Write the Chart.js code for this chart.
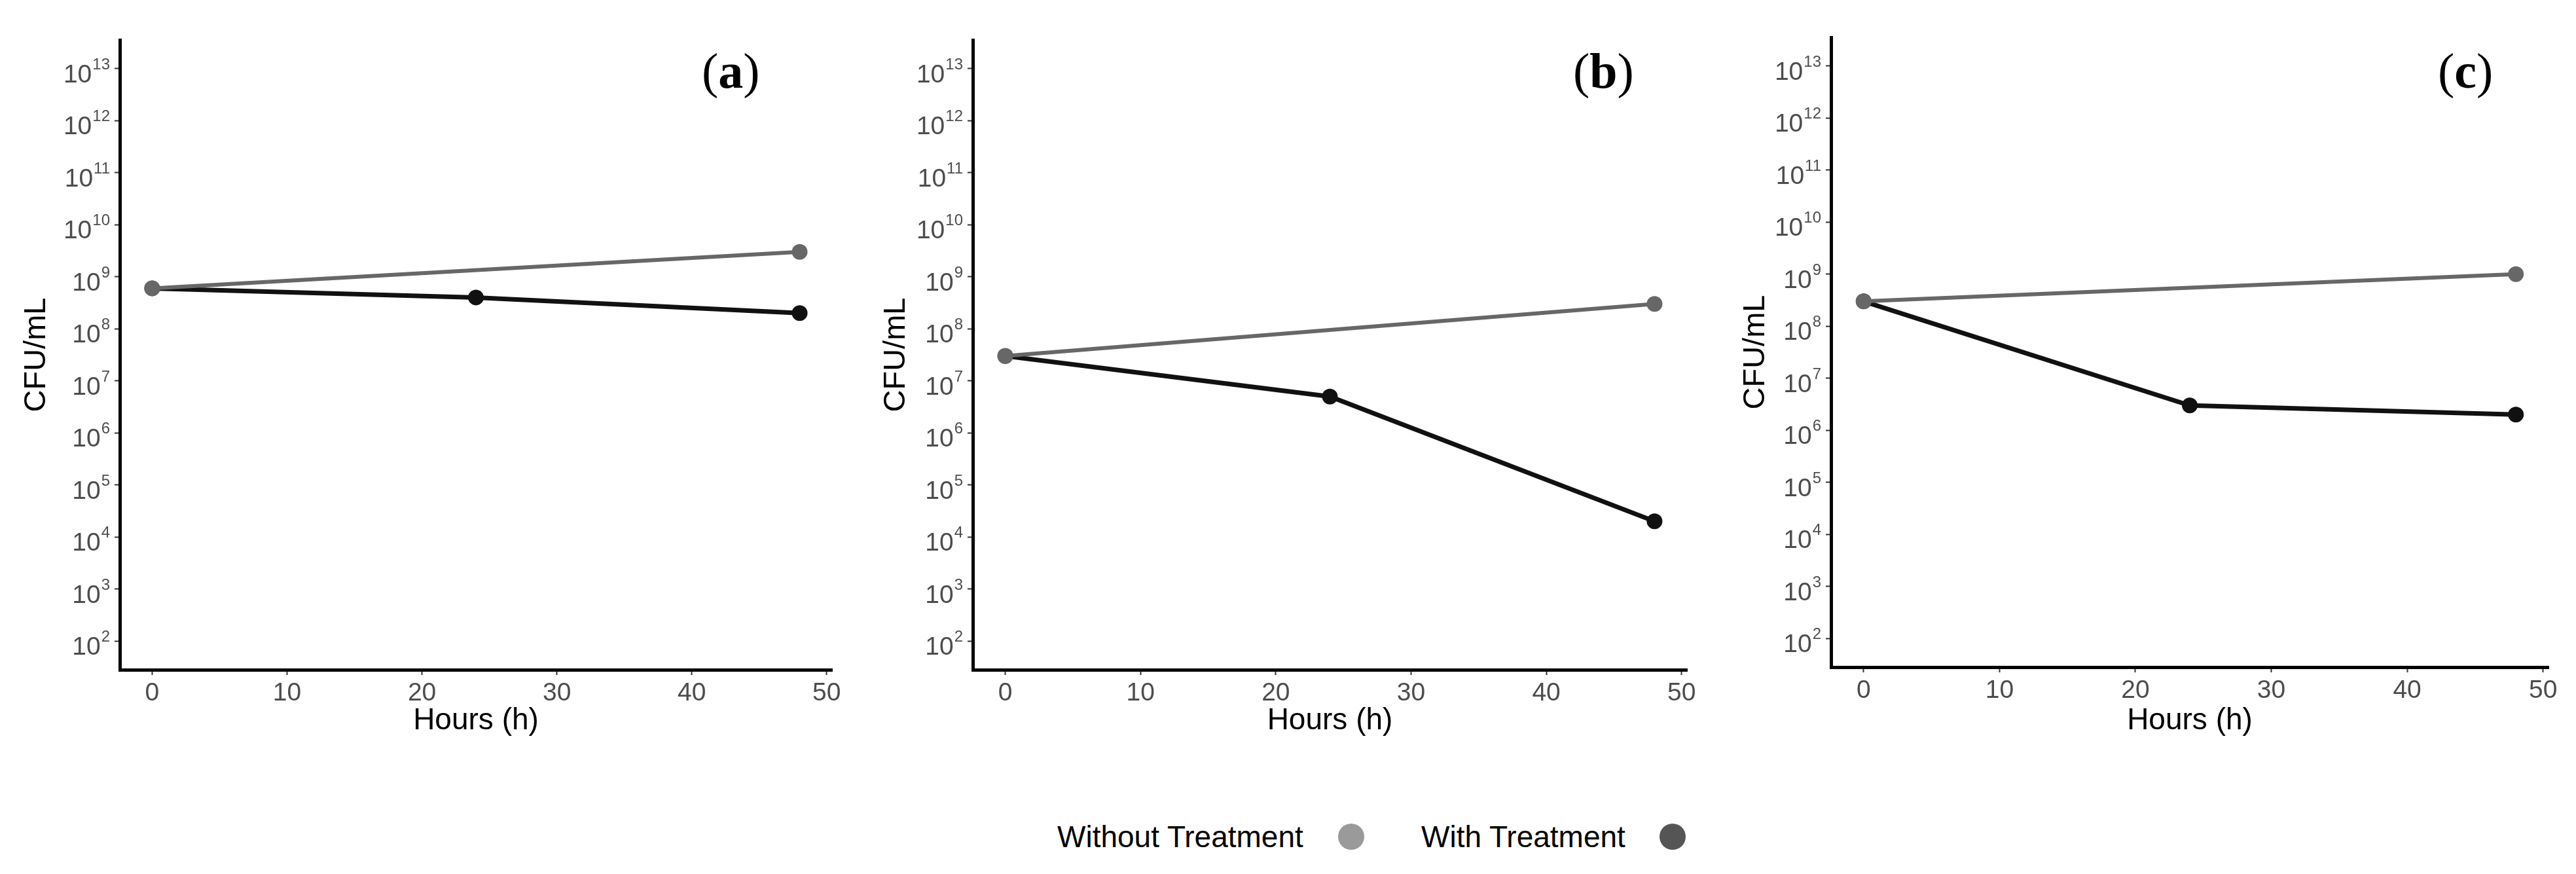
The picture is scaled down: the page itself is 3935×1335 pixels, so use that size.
<!DOCTYPE html>
<html>
<head>
<meta charset="utf-8">
<script src="https://cdn.jsdelivr.net/npm/chart.js@4"></script>
<style>
  body { margin: 0; background: #fff; }
  #page { position: relative; width: 3935px; height: 1335px; overflow: hidden; background: #fff; }
  canvas { position: absolute; top: 0; }
  .tag { position: absolute; top: 70px; font-family: "Liberation Serif", serif; font-size: 76px; line-height: 1; color: #000; }
  .tag b { font-weight: bold; }
  .leg { position: absolute; font-family: "Liberation Sans", Arial, sans-serif; font-size: 46px; line-height: 46px; color: #000; white-space: nowrap; }
  .dot { position: absolute; width: 40px; height: 40px; border-radius: 50%; }
</style>
</head>
<body>
<div id="page">
  <canvas id="chartA" width="1300" height="1150" style="left:0px"></canvas>
  <canvas id="chartB" width="1300" height="1150" style="left:1300px"></canvas>
  <canvas id="chartC" width="1335" height="1150" style="left:2600px"></canvas>

  <div class="tag" style="left:1072px">(<b>a</b>)</div>
  <div class="tag" style="left:2403px">(<b>b</b>)</div>
  <div class="tag" style="left:3724px">(<b>c</b>)</div>

  <div class="leg" style="left:1615px; top:1255px">Without Treatment</div>
  <div class="dot" style="left:2044px; top:1258px; background:#9a9a9a"></div>
  <div class="leg" style="left:2171px; top:1255px">With Treatment</div>
  <div class="dot" style="left:2535px; top:1258px; background:#555555"></div>
</div>
<script>
// hours sampled
const withoutHours = [0, 48];
const withHours = [0, 24, 48];

// CFU/mL
const withoutA = [6e8, 3e9];
const withA = [6e8, 4e8, 2e8];
const withoutB = [3e7, 3e8];
const withB = [3e7, 5e6, 2e4];
const withoutC = [3e8, 1e9];
const withC = [3e8, 3e6, 2e6];

// axis ticks
const hourTicks = [0, 10, 20, 30, 40, 50];
const yExponents = [2, 3, 4, 5, 6, 7, 8, 9, 10, 11, 12, 13];

const sans = '"Liberation Sans", Arial, sans-serif';

// y tick labels drawn as 10 with a raised exponent
const powerLabels = {
    id: 'powerLabels',
    afterDraw(chart) {
        const s = chart.scales.y;
        const ctx = chart.ctx;
        const right = s.right - 15;
        ctx.save();
        ctx.fillStyle = '#4d4d4d';
        ctx.textBaseline = 'alphabetic';
        ctx.textAlign = 'right';
        yExponents.forEach(function (e) {
            const y = s.getPixelForValue(Math.pow(10, e));
            ctx.font = '24px ' + sans;
            const exp = String(e);
            const ew = ctx.measureText(exp).width;
            ctx.fillText(exp, right, y + 1);
            ctx.font = '39px ' + sans;
            ctx.fillText('10', right - ew - 1, y + 21);
        });
        ctx.restore();
    }
};

function toPoints(hours, values) {
    return hours.map(function (h, i) { return { x: h, y: values[i] }; });
}

function makePanel(id, without, treated, lay) {
    new Chart(document.getElementById(id), {
        type: 'line',
        data: {
            datasets: [{
                label: 'Without Treatment',
                data: toPoints(withoutHours, without),
                borderColor: '#676767',
                backgroundColor: '#676767',
                borderWidth: 6,
                pointRadius: 12,
                pointBorderWidth: 0,
                tension: 0
            }, {
                label: 'With Treatment',
                data: toPoints(withHours, treated),
                borderColor: '#111111',
                backgroundColor: '#111111',
                borderWidth: 7,
                pointRadius: 12,
                pointBorderWidth: 0,
                tension: 0
            }]
        },
        options: {
            responsive: false,
            animation: false,
            layout: { padding: { top: lay.top, right: lay.right, left: 0, bottom: 0 } },
            plugins: { legend: { display: false }, tooltip: { enabled: false } },
            scales: {
                x: {
                    type: 'linear',
                    min: -2.4,
                    max: 50.4,
                    afterBuildTicks: function (s) { s.ticks = hourTicks.map(function (v) { return { value: v }; }); },
                    afterFit: function (s) { s.height = lay.xH; },
                    ticks: { font: { size: 39, family: sans }, color: '#4d4d4d', padding: 5, maxRotation: 0 },
                    grid: { drawOnChartArea: false, drawTicks: true, tickLength: 8, tickWidth: 2, tickColor: '#333' },
                    border: { color: '#000', width: 5 },
                    title: { display: true, text: 'Hours (h)', color: '#000', font: { size: 46, family: sans }, padding: { top: 0, bottom: 21 } }
                },
                y: {
                    type: 'logarithmic',
                    min: Math.pow(10, 1.45),
                    max: Math.pow(10, 13.55),
                    afterBuildTicks: function (s) { s.ticks = yExponents.map(function (e) { return { value: Math.pow(10, e) }; }); },
                    afterFit: function (s) { s.width = lay.yW; },
                    ticks: { display: false },
                    grid: { drawOnChartArea: false, drawTicks: true, tickLength: 8, tickWidth: 2, tickColor: '#333' },
                    border: { color: '#000', width: 5 },
                    title: { display: true, text: 'CFU/mL', color: '#000', font: { size: 47, family: sans }, padding: { top: lay.titlePad, bottom: 0 } }
                }
            }
        },
        plugins: [powerLabels]
    });
}

makePanel('chartA', withoutA, withA, { top: 61, right: 29, yW: 183, xH: 127, titlePad: 28 });
makePanel('chartB', withoutB, withB, { top: 61, right: 23, yW: 186, xH: 127, titlePad: 41 });
makePanel('chartC', withoutC, withC, { top: 57, right: 42, yW: 197, xH: 131, titlePad: 54 });
</script>
</body>
</html>
